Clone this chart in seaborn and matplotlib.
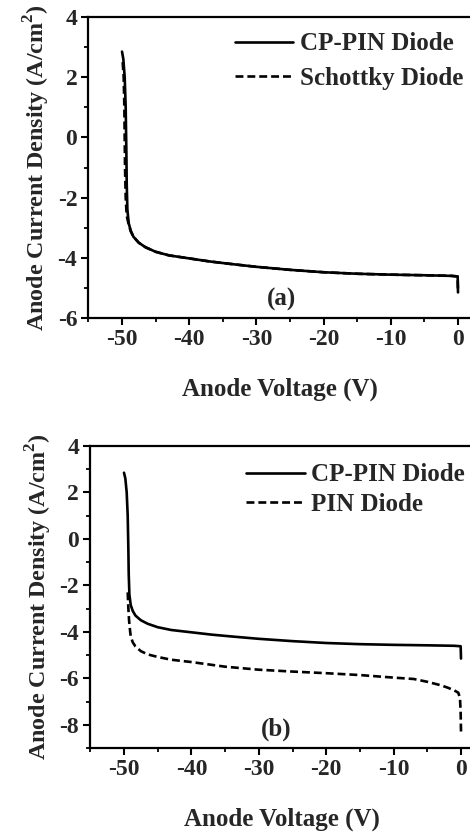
import numpy as np
import pandas as pd
import matplotlib
matplotlib.use("Agg")
import matplotlib.pyplot as plt
import seaborn as sns
from matplotlib.ticker import MultipleLocator

sns.set_theme(style="white")
plt.rcParams['font.family'] = ['Liberation Serif', 'DejaVu Serif']
plt.rcParams['font.weight'] = 'bold'
plt.rcParams['axes.unicode_minus'] = False
plt.rcParams['mathtext.fontset'] = 'custom'
plt.rcParams['mathtext.rm'] = 'Liberation Serif:bold'
plt.rcParams['mathtext.bf'] = 'Liberation Serif:bold'

# CP-PIN diode (same in both panels)
cp_x = [-50.0, -49.8, -49.6, -49.45, -49.35, -49.3, -49.2, -49.0, -48.7, -48.3, -47.5,
        -46.5, -45.0, -43.0, -40.0, -37.0, -34.0, -30.0, -25.0, -20.0, -15.0, -10.0,
        -5.0, -1.0, -0.05, 0.0]
cp_y = [2.85, 2.6, 2.0, 1.0, -0.5, -1.5, -2.4, -2.85, -3.1, -3.3, -3.5,
        -3.65, -3.8, -3.92, -4.02, -4.12, -4.2, -4.3, -4.4, -4.48, -4.53, -4.56,
        -4.58, -4.6, -4.62, -5.15]

# Schottky diode (panel a)
sk_x = [-49.9, -49.75, -49.65, -49.6, -49.55, -49.45, -49.3, -49.0, -48.7, -48.3, -47.5,
        -46.5, -45.0, -43.0, -40.0, -37.0, -34.0, -30.0, -25.0, -20.0, -15.0, -10.0,
        -5.0, -1.0, -0.05, 0.0]
sk_y = [2.5, 2.0, 1.0, 0.0, -1.0, -2.0, -2.6, -2.9, -3.12, -3.3, -3.5,
        -3.65, -3.8, -3.92, -4.02, -4.12, -4.2, -4.3, -4.4, -4.48, -4.53, -4.56,
        -4.58, -4.6, -4.62, -5.15]

# PIN diode (panel b)
pin_x = [-49.45, -49.35, -49.25, -49.1, -49.0, -48.7, -48.3, -47.5, -46.5, -45.0, -43.0,
         -40.0, -35.0, -30.0, -25.0, -20.0, -15.0, -10.0, -7.0, -5.0, -3.0, -2.0,
         -1.0, -0.4, -0.15, -0.05, 0.0]
pin_y = [-2.3, -3.0, -3.5, -3.95, -4.2, -4.45, -4.63, -4.83, -4.97, -5.08, -5.2,
         -5.3, -5.5, -5.63, -5.71, -5.78, -5.86, -5.97, -6.03, -6.15, -6.3, -6.4,
         -6.52, -6.62, -6.85, -7.5, -8.3]

xlim = (-55, 2)
xticks = [-50, -40, -30, -20, -10, 0]

W, H = 470, 834
fig = plt.figure(figsize=(W / 100, H / 100), dpi=100)

def px_axes(left, top, right, bottom):
    return fig.add_axes([left / W, 1 - bottom / H, (right - left) / W, (bottom - top) / H])

ax1 = px_axes(88.4, 17, 88.4 + 57 * 6.72, 318)
ax2 = px_axes(90.3, 446, 90.3 + 57 * 6.74, 748)

lw = 1.9
dash = (0, (3.0, 1.5))
sns.lineplot(x=cp_x, y=cp_y, ax=ax1, sort=False, estimator=None, color='black',
             linewidth=lw, label='CP-PIN Diode')
sns.lineplot(x=sk_x, y=sk_y, ax=ax1, sort=False, estimator=None, color='black',
             linewidth=lw, linestyle=dash, label='Schottky Diode')
sns.lineplot(x=cp_x, y=cp_y, ax=ax2, sort=False, estimator=None, color='black',
             linewidth=lw, label='CP-PIN Diode')
sns.lineplot(x=pin_x, y=pin_y, ax=ax2, sort=False, estimator=None, color='black',
             linewidth=lw, linestyle=dash, label='PIN Diode')

fs = 18
panels = [(ax1, (-6, 4), '(a)', (-26.3, -5.4), (1.0235, 1.007), 0.47),
          (ax2, (-9, 4), '(b)', (-27.4, -8.2), (1.021, 1.0), 0.27)]
for ax, ylim, tag, tagpos, anchor, lsp in panels:
    ax.set_xlim(*xlim)
    ax.set_ylim(*ylim)
    ax.set_xticks(xticks)
    ax.xaxis.set_minor_locator(MultipleLocator(5))
    ax.yaxis.set_major_locator(MultipleLocator(2))
    ax.yaxis.set_minor_locator(MultipleLocator(1))
    ax.tick_params(axis='both', which='major', direction='out', length=5, width=1.5,
                   labelsize=17, color='black', bottom=True, left=True, pad=3)
    ax.tick_params(axis='both', which='minor', direction='out', length=3, width=1.3,
                   color='black', bottom=True, left=True)
    for lab in ax.get_xticklabels() + ax.get_yticklabels():
        lab.set_fontweight('bold')
    for s in ax.spines.values():
        s.set_linewidth(1.6)
        s.set_color('black')
    ax.spines['right'].set_visible(False)
    ax.set_xlabel('Anode Voltage (V)', fontsize=fs, fontweight='bold', labelpad=20)
    ax.set_ylabel('Anode Current Density (A/cm$^{2}$)', fontsize=17.3, fontweight='bold', labelpad=4)
    ax.text(tagpos[0], tagpos[1], tag, fontsize=fs, fontweight='bold', ha='center', va='center')
    ax.legend(loc='upper right', bbox_to_anchor=anchor, frameon=False,
              handlelength=2.35, handletextpad=0.25, labelspacing=lsp, borderaxespad=0.3,
              prop={'weight': 'bold', 'size': fs})

fig.savefig('out.png', dpi=100)
